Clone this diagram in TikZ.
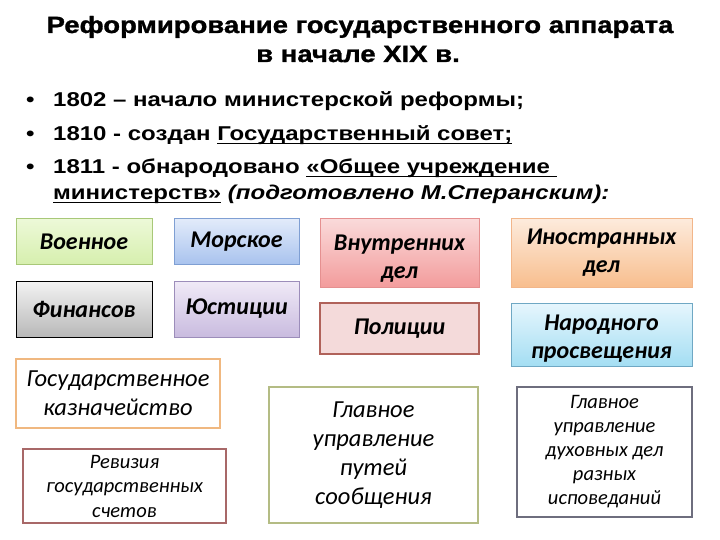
\documentclass[tikz,border=0pt]{standalone}
\usepackage{fontspec}
\setmainfont{Liberation Sans}
\newfontfamily\widesans[FakeStretch=1.2]{Liberation Sans}
\newfontfamily\titlefont[FakeStretch=1.17,FakeBold=1.2]{Liberation Sans Bold}
\newfontfamily\boxfont{Carlito}
\newlength\ulwd
\newcommand\ultext[1]{\settowidth\ulwd{#1}\rlap{\rule[-3pt]{\ulwd}{1.3pt}}#1}
\definecolor{grnline}{HTML}{A8C878}
\definecolor{bluline}{HTML}{7F9FD3}
\definecolor{pinkline}{HTML}{E59090}
\definecolor{peachline}{HTML}{F2B68A}
\definecolor{lavline}{HTML}{9C8DBA}
\definecolor{polline}{HTML}{B0625A}
\definecolor{cyanline}{HTML}{6FA8C4}
\definecolor{kaznline}{HTML}{F0B880}
\definecolor{revline}{HTML}{A86868}
\definecolor{putline}{HTML}{B4BC84}
\definecolor{duhline}{HTML}{6E6E7E}
\definecolor{grntop}{HTML}{EDF9D8}
\definecolor{grnbot}{HTML}{D6EFAE}
\definecolor{blutop}{HTML}{E2EBFA}
\definecolor{blubot}{HTML}{A9C3EE}
\definecolor{pinktop}{HTML}{FADADA}
\definecolor{pinkbot}{HTML}{F39C9C}
\definecolor{peachtop}{HTML}{FDEBDC}
\definecolor{peachbot}{HTML}{F8BE8E}
\definecolor{graytop}{HTML}{F3F3F3}
\definecolor{graybot}{HTML}{B8B8B8}
\definecolor{lavtop}{HTML}{F0EAF7}
\definecolor{lavbot}{HTML}{C9BBDF}
\definecolor{polfill}{HTML}{F4DADA}
\definecolor{cyantop}{HTML}{E6F6FD}
\definecolor{cyanbot}{HTML}{A4DEF3}
\begin{document}
\begin{tikzpicture}[x=1pt,y=-1pt,
  minbox/.style={draw, line width=1pt, inner sep=0pt, align=center,
    font=\boxfont\bfseries\itshape\fontsize{24}{28}\selectfont},
  lowbox/.style={draw, line width=2.2pt, fill=white, inner sep=0pt, align=center},
  bulletline/.style={anchor=base west, inner sep=0pt, font=\widesans\bfseries\fontsize{20}{24}\selectfont},
  titletext/.style={anchor=base, inner sep=0pt, font=\titlefont\fontsize{23.5}{29}\selectfont}]
\useasboundingbox (0,0) rectangle (720,540);
%%%% title
\node[titletext] (title) at (360,33) {Реформирование государственного аппарата};
\node[titletext] (subtitle) at (358,62) {в начале XIX в.};
%%%% bullets
\node[bulletline] (dot1) at (26,107) {•};
\node[bulletline] (dot2) at (26,141) {•};
\node[bulletline] (dot3) at (26,174) {•};
\node[bulletline] (line1) at (53,107) {1802 – начало министерской реформы;};
\node[bulletline] (line2) at (53,141) {1810 - создан \ultext{Государственный совет;}};
\node[bulletline] (line3) at (53,174) {1811 - обнародовано \ultext{«Общее учреждение\ }};
\node[bulletline] (line4) at (53,200) {\ultext{министерств»} \textit{(подготовлено М.Сперанским):}};
%%%% ministries
\node[minbox, draw=grnline, top color=grntop, bottom color=grnbot,
  minimum width=136, minimum height=45] (voen) at (84,241.5) {Военное};
\node[minbox, draw=bluline, top color=blutop, bottom color=blubot,
  minimum width=125, minimum height=45] (morsk) at (236.5,241.5) {Морское};
\node[minbox, draw=pinkline, top color=pinktop, bottom color=pinkbot,
  minimum width=159, minimum height=68] (vnutr) at (399.5,253) {\rule{0pt}{26pt}Внутренних\\дел};
\node[minbox, draw=peachline, top color=peachtop, bottom color=peachbot,
  minimum width=181, minimum height=68] (inostr) at (601.5,253) {Иностранных\\дел};
\node[minbox, draw=black, top color=graytop, bottom color=graybot,
  minimum width=136, minimum height=56] (finans) at (84,309) {Финансов};
\node[minbox, draw=lavline, top color=lavtop, bottom color=lavbot,
  minimum width=125, minimum height=56] (yust) at (236.5,309) {Юстиции};
\node[minbox, draw=polline, line width=2pt, fill=polfill,
  minimum width=159, minimum height=51] (polic) at (399.5,328.5) {Полиции};
\node[minbox, draw=cyanline, top color=cyantop, bottom color=cyanbot,
  minimum width=181, minimum height=63] (narod) at (601.5,334.5) {\rule{0pt}{24pt}Народного\\просвещения};
%%%% departments
\node[lowbox, draw=kaznline, minimum width=204, minimum height=69,
  font=\boxfont\itshape\fontsize{24.5}{29}\selectfont] (kazn) at (118,393.5) {Государственное\\казначейство};
\node[lowbox, draw=revline, minimum width=203, minimum height=74,
  font=\boxfont\itshape\fontsize{20.5}{24.5}\selectfont] (reviz) at (124.5,486) {Ревизия\\государственных\\счетов};
\node[lowbox, draw=putline, minimum width=209, minimum height=136,
  font=\boxfont\itshape\fontsize{24.5}{29}\selectfont] (putei) at (373.5,455) {Главное\\управление\\путей\\сообщения};
\node[lowbox, draw=duhline, minimum width=175, minimum height=130,
  font=\boxfont\itshape\fontsize{20.5}{24}\selectfont] (duhov) at (604.5,452) {Главное\\управление\\духовных дел\\разных\\исповеданий};
\end{tikzpicture}
\end{document}
